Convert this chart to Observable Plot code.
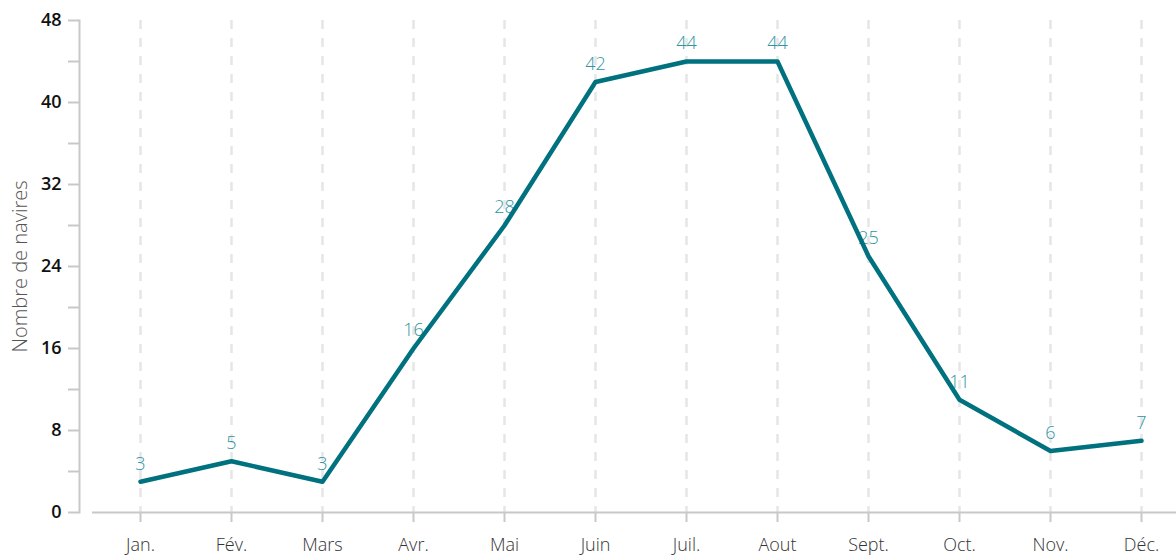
<!DOCTYPE html>
<html><head><meta charset="utf-8">
<script src="https://cdn.jsdelivr.net/npm/d3@7"></script>
<script src="https://cdn.jsdelivr.net/npm/@observablehq/plot@0.6"></script>
<style>
body{margin:0;background:#fff;}
svg{font-family:"Open Sans",sans-serif;}
</style></head>
<body><div id="chart"></div>
<script>
const months = ["Jan.","Fév.","Mars","Avr.","Mai","Juin","Juil.","Aout","Sept.","Oct.","Nov.","Déc."];
const ships = [3,5,3,16,28,42,44,44,25,11,6,7];
const yTicks = [0,4,8,12,16,20,24,28,32,36,40,44,48];
const data = months.map((m,i)=>({month:m, value:ships[i]}));

const chart = Plot.plot({
  width:1176, height:555,
  marginTop:20, marginBottom:43, marginLeft:92, marginRight:0,
  style:{fontFamily:'"Open Sans",sans-serif', background:"#fff"},
  x:{type:"point", domain:months, range:[138,1142], padding:0},
  y:{domain:[0,48]},
  marks:[
    Plot.ruleX(months,{x:d=>d, stroke:"#e6e6e6", strokeWidth:2.5, strokeDasharray:"9,9"}),
    Plot.frame({anchor:"left", dx:-13, stroke:"#c8c8c8", strokeWidth:2}),
    Plot.ruleY([0],{stroke:"#c8c8c8", strokeWidth:2}),
    Plot.axisY({ticks:yTicks, tickSize:11, dx:-13, tickPadding:7, stroke:"#c8c8c8", strokeWidth:2,
      tickFormat:d=> d%8===0 ? String(d) : "", fontSize:18, fontWeight:600, fill:"#111",
      label:null}),
    Plot.text(["Nombre de navires"],{frameAnchor:"left", textAnchor:"middle", dx:-72, rotate:-90, fontSize:20, fontWeight:300, fill:"#555"}),
    Plot.axisX({tickSize:10, tickPadding:16, stroke:"#c8c8c8", strokeWidth:2, fontSize:18, fontWeight:300, fill:"#333", label:null}),
    Plot.text(data,{x:"month", y:"value", text:d=>String(d.value), dy:-18, fontSize:18, fontWeight:300, fill:"#2f95a3"}),
    Plot.line(data,{x:"month", y:"value", stroke:"#00717f", strokeWidth:4.5})
  ]
});
document.getElementById("chart").append(chart);
</script></body></html>
